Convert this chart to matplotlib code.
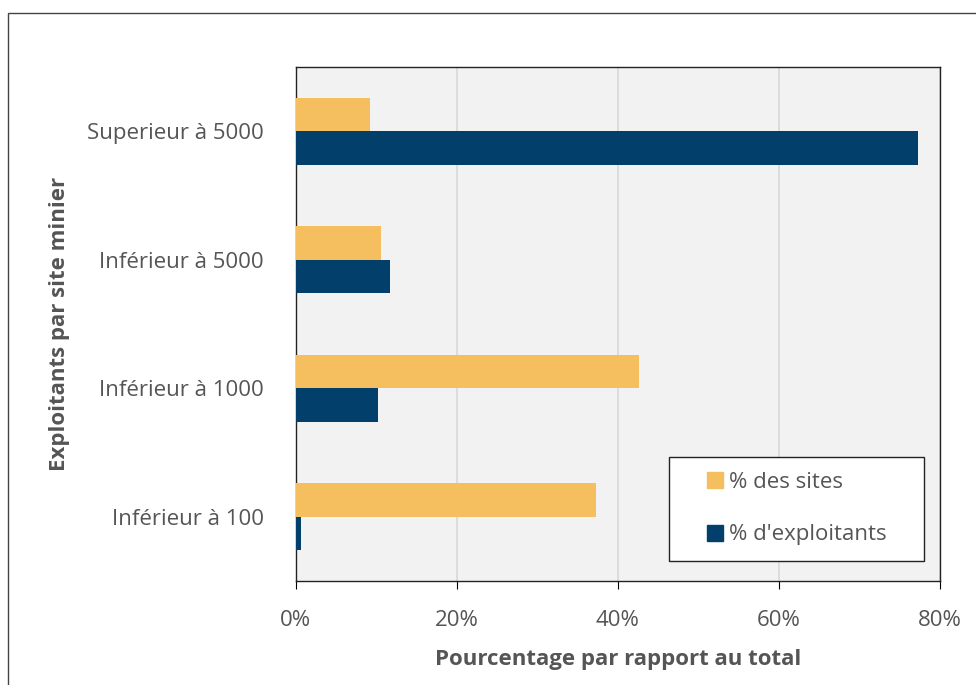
import numpy as np
import matplotlib.pyplot as plt
from matplotlib.patches import Rectangle
from matplotlib.lines import Line2D

plt.rcParams['font.family'] = ['Open Sans', 'DejaVu Sans']

categories = ['Inférieur à 100', 'Inférieur à 1000', 'Inférieur à 5000', 'Superieur à 5000']
sites = [37.3, 42.6, 10.6, 9.2]
exploitants = [0.6, 10.2, 11.7, 77.3]
xticks = [0, 20, 40, 60, 80]
xticklabels = ['0%', '20%', '40%', '60%', '80%']

orange = '#f5be5e'
navy = '#023f6b'
grey = '#555555'
fs = 16

fig = plt.figure(figsize=(9.76, 6.85), dpi=100)
ax = fig.add_axes([0.303, 0.152, 0.66, 0.75])

y = np.arange(len(categories))
h = 0.26
ax.barh(y + h / 2, sites, height=h, color=orange, label='% des sites', zorder=3)
ax.barh(y - h / 2, exploitants, height=h, color=navy, label="% d'exploitants", zorder=3)

ax.set_ylim(-0.5, 3.5)
ax.set_xlim(0, 80)
ax.set_facecolor('#f2f2f2')
ax.set_xticks(xticks)
ax.set_xticklabels(xticklabels)
ax.set_yticks(y)
ax.set_yticklabels(categories)
ax.tick_params(axis='y', length=0, pad=23, labelsize=fs, labelcolor=grey)
ax.tick_params(axis='x', length=6, pad=15, labelsize=fs, labelcolor=grey, color='black')
ax.grid(axis='x', color='#d8d8d8', linewidth=1.2, zorder=0)
for s in ax.spines.values():
    s.set_color('#222222')
    s.set_linewidth(1)

ax.set_xlabel('Pourcentage par rapport au total', fontsize=fs, fontweight='bold', color=grey)
ax.set_ylabel('Exploitants par site minier', fontsize=fs, fontweight='bold', color=grey)
ax.xaxis.set_label_coords(0.5, -0.132)
ax.yaxis.set_label_coords(-0.35, 0.5)

handles = [Line2D([], [], marker='s', linestyle='', markersize=11, color=orange),
           Line2D([], [], marker='s', linestyle='', markersize=11, color=navy)]
leg = ax.legend(handles, ['% des sites', "% d'exploitants"], loc='lower left',
                bbox_to_anchor=(0.579, 0.039, 0.396, 0.2), mode='expand',
                fontsize=fs, frameon=True,
                fancybox=False, edgecolor='#222222', framealpha=1,
                labelspacing=1.4, handletextpad=-0.8, handlelength=2.8,
                borderpad=0.7, borderaxespad=0)
for t in leg.get_texts():
    t.set_color(grey)
leg.get_frame().set_linewidth(1)

fig.patches.append(Rectangle((8 / 976, -0.1), 1.1, 1 - 13 / 685 + 0.1,
                             transform=fig.transFigure, fill=False,
                             edgecolor='#444444', linewidth=1, clip_on=False))

fig.savefig('out.png', dpi=100)
